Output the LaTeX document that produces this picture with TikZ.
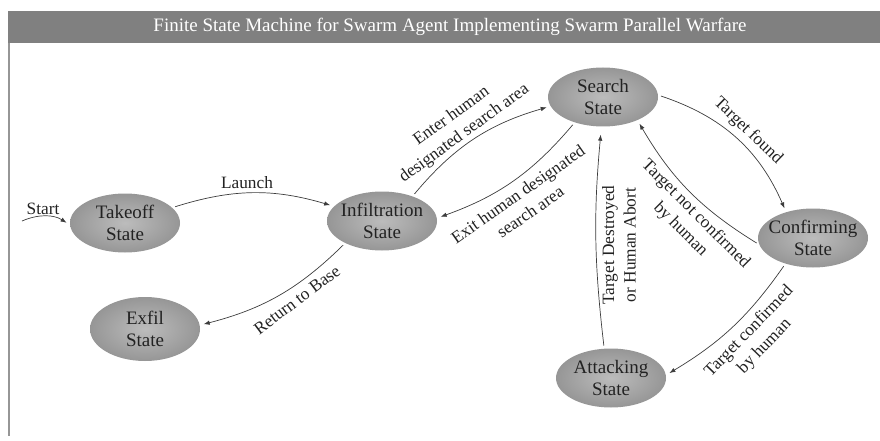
\documentclass[tikz,border=0pt]{standalone}
\usepackage{fontspec}
\setmainfont{Liberation Serif}
\usetikzlibrary{shapes.geometric,arrows.meta}
\definecolor{barfill}{RGB}{128,128,128}
\definecolor{frameline}{RGB}{150,150,150}
\definecolor{stateinner}{RGB}{188,188,188}
\definecolor{stateouter}{RGB}{150,150,150}
\definecolor{ink}{RGB}{34,34,34}
\definecolor{wire}{RGB}{60,60,60}
\begin{document}
\begin{tikzpicture}[x=1pt,y=-1pt,
  state/.style={ellipse, minimum width=110pt, minimum height=59pt, inner sep=0pt,
    shading=radial, inner color=stateinner, outer color=stateouter},
  statename/.style={align=center, font=\fontsize{19}{22.5}\selectfont, text=ink, inner sep=0pt},
  trans/.style={draw=wire, line width=0.7pt, -{Latex[length=6pt,width=4.5pt]},
    shorten <=3pt, shorten >=4pt},
  tlabel/.style={align=center, font=\fontsize{17.3}{21.5}\selectfont, text=ink, inner sep=0pt}
]
\useasboundingbox (0,0) rectangle (880,441);

% title bar and frame
\fill[barfill] (8,11) rectangle (880,43);
\node[text=white, font=\fontsize{19}{22}\selectfont, inner sep=0pt] (title) at (450,27)
  {Finite State Machine for Swarm Agent Implementing Swarm Parallel Warfare};
\draw[frameline, line width=1.5pt] (9,43) -- (9,436);

% states
\node[state, label={[statename]center:{Takeoff\\State}}] (takeoff) at (125,223) {};
\node[state, label={[statename]center:{Infiltration\\State}}] (infil) at (382,221) {};
\node[state, label={[statename]center:{Search\\State}}] (search) at (603,97) {};
\node[state, label={[statename]center:{Confirming\\State}}] (confirm) at (813,238) {};
\node[state, label={[statename]center:{Attacking\\State}}] (attack) at (611,378) {};
\node[state, minimum height=64pt, label={[statename]center:{Exfil\\State}}] (exfil) at (145,329) {};

% transitions
\coordinate (start) at (22,221);
\draw[trans, shorten <=0pt] (start) to[bend left=28] (takeoff.182);
\draw[trans] (takeoff.18) to[bend left=17] (infil.163);
\draw[trans] (infil.39) to[bend left=17] (search.190);
\draw[trans] (search.222) to[bend left=15] (infil.3);
\draw[trans] (search.2) to[bend left=24] (confirm.136);
\draw[trans] (confirm.187) to[bend left=14] (search.-34);
\draw[trans] (confirm.223) to[bend left=12] (attack.3);
\draw[trans, shorten >=8pt] (attack.103) to[bend left=6] (search.-93);
\draw[trans] (infil.211) to[bend left=15] (exfil.4);

% transition labels
\node[tlabel] (lstart) at (43,209) {Start};
\node[tlabel] (llaunch) at (247,183) {Launch};
\node[tlabel, rotate=36] (lenter) at (458,125) {Enter human\\designated search area};
\node[tlabel, rotate=35] (lexit) at (524,203) {Exit human designated\\search area};
\node[tlabel, rotate=-44] (lfound) at (748,131) {Target found};
\node[tlabel, rotate=-45] (lnot) at (688,222) {Target not confirmed\\by human};
\node[tlabel, rotate=90] (ldestroy) at (619,245) {Target Destroyed\\or Human Abort};
\node[tlabel, rotate=46] (lconf) at (757,339) {Target confirmed\\by human};
\node[tlabel, rotate=37] (lreturn) at (297,300) {Return to Base};
\end{tikzpicture}
\end{document}
